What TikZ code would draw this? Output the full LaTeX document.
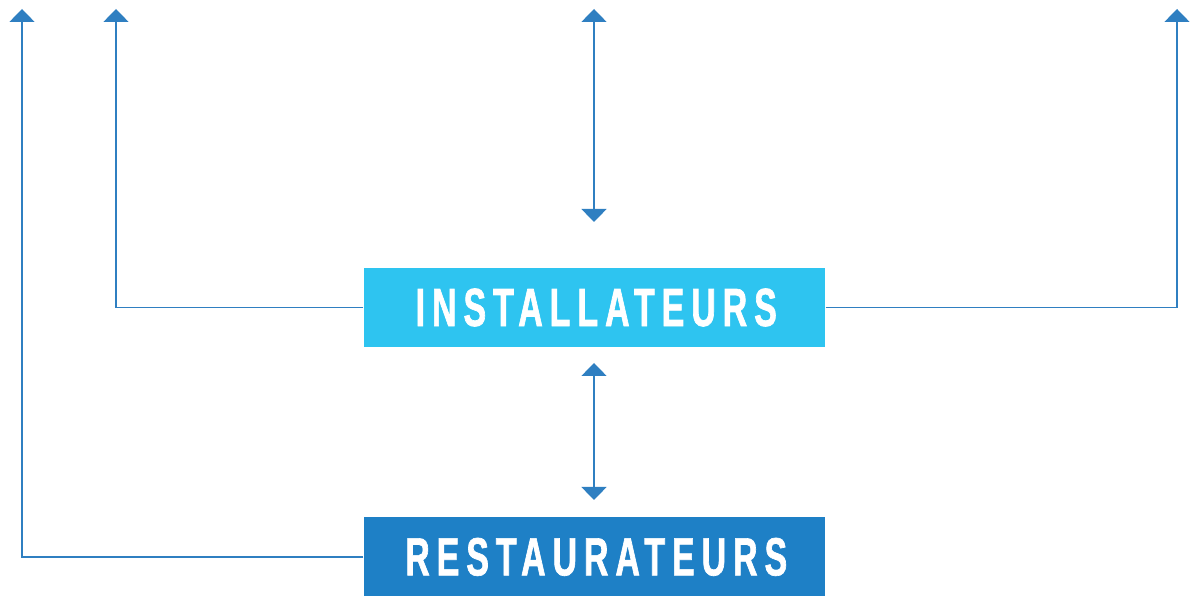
\documentclass[tikz,border=0pt]{standalone}
\usepackage{fontspec}
\usepackage{xcolor}
\usetikzlibrary{arrows.meta,positioning}

\newfontfamily\boxfont{Liberation Sans}[FakeStretch=0.63,LetterSpace=13,FakeBold=1.2]
\definecolor{lightbox}{HTML}{2EC4F0}
\definecolor{darkbox}{HTML}{1E80C6}
\definecolor{linkblue}{HTML}{2F7FC1}

\begin{document}
\begin{tikzpicture}[>={Triangle[width=0.5cm,length=0.26cm]},line width=0.8pt,color=linkblue,
    box node/.style={rectangle,inner sep=0pt,minimum width=9.22cm,minimum height=1.58cm,text=white,
        font=\boxfont\bfseries\fontsize{30.6}{32}\selectfont}]
                \useasboundingbox (0,0) rectangle (24.02,11.96);

                \node[box node,fill=lightbox] (inst) at (11.89,5.81) {\hspace{0.065em}INSTALLATEURS};
                \node[box node,fill=darkbox] (rest) [below=3.38cm of inst] {\hspace{0.065em}RESTAURATEURS};

                \coordinate (outer left) at (0.44,11.78);
                \coordinate (inner left) at (2.32,11.78);
                \coordinate (mid top) at (11.88,11.78);
                \coordinate (mid low) at (11.88,7.52);
                \coordinate (right) at (23.54,11.78);
                \coordinate (link top) at (11.88,4.70);
                \coordinate (link low) at (11.88,1.96);

                \draw[->] (rest.west) -| (outer left);
                \draw[->] (inst.west) -| (inner left);
                \draw[->] (inst.east) -| (right);
                \draw[<->] (mid top) -- (mid low);
                \draw[<->] (link top) -- (link low);
            \end{tikzpicture}
\end{document}
